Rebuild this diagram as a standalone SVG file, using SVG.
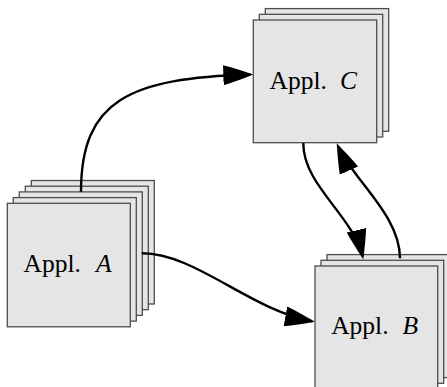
<svg xmlns="http://www.w3.org/2000/svg" width="447" height="387" viewBox="0 0 447 387">
  <style>
    .sheet { fill: #e5e5e5; stroke: #4d4d4d; stroke-width: 1.3; }
    .label { font-family: "Liberation Serif", "Times New Roman", serif; font-size: 25.5px; fill: #000; }
    .var { font-style: italic; }
    .edge { fill: none; stroke: #000; stroke-width: 2.4; marker-end: url(#head); }
  </style>
  <defs>
    <marker id="head" markerUnits="userSpaceOnUse" markerWidth="32" markerHeight="24" viewBox="0 0 32 24" refX="27" refY="12" orient="auto">
      <path d="M30,12 C19,8 9,4.5 0,2 L0,22 C9,19.5 19,16 30,12 Z" fill="#000"/>
    </marker>
  </defs>
  <rect width="447" height="387" fill="#fff"/>

  <!-- Application A: stack of five sheets -->
  <g id="appA">
    <rect class="sheet" x="31.3" y="180.5" width="123" height="123.5"/>
    <rect class="sheet" x="25.3" y="186.2" width="123" height="123.5"/>
    <rect class="sheet" x="19.3" y="191.9" width="123" height="123.5"/>
    <rect class="sheet" x="13.3" y="197.6" width="123" height="123.5"/>
    <rect class="sheet" x="7.3" y="203.3" width="123" height="123.5"/>
    <text class="label" x="23.5" y="272.3">Appl. <tspan class="var" x="96">A</tspan></text>
  </g>

  <!-- Application C: stack of three sheets -->
  <g id="appC">
    <rect class="sheet" x="265.3" y="8.6" width="123.4" height="122.7"/>
    <rect class="sheet" x="259.3" y="14.3" width="123.4" height="122.7"/>
    <rect class="sheet" x="253.3" y="20" width="123.4" height="122.7"/>
    <text class="label" x="269.5" y="88.5">Appl. <tspan class="var" x="340">C</tspan></text>
  </g>

  <!-- Application B: stack of three sheets -->
  <g id="appB">
    <rect class="sheet" x="327" y="254.6" width="122.7" height="123"/>
    <rect class="sheet" x="321" y="260.3" width="122.7" height="123"/>
    <rect class="sheet" x="315" y="266" width="122.7" height="123"/>
    <text class="label" x="331.2" y="334">Appl. <tspan class="var" x="402.5">B</tspan></text>
  </g>

  <!-- Connectors -->
  <g id="connectors">
    <path class="edge" d="M81,191.7 C81,100 130,78 250.3,74.5"/>
    <path class="edge" d="M141.7,253.3 C195,253 250,310 312,321.2"/>
    <path class="edge" d="M303.3,143 C303,185 353,215.7 362.6,256.6"/>
    <path class="edge" d="M400,258.3 C400,215 353,179.8 337.9,146"/>
  </g>
</svg>
